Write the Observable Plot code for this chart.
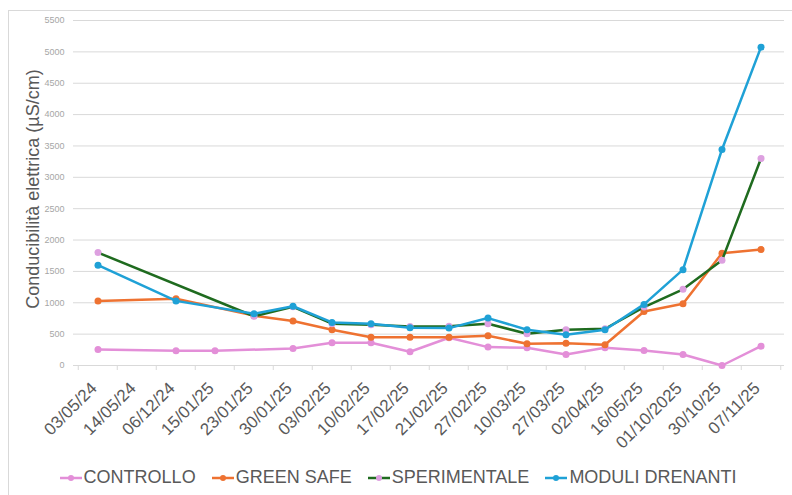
<!DOCTYPE html>
<html><head><meta charset="utf-8">
<script src="https://cdn.jsdelivr.net/npm/d3@7"></script>
<script src="https://cdn.jsdelivr.net/npm/@observablehq/plot@0.6"></script>
<style>
body{margin:0;background:#fff;font-family:"Liberation Sans",Arial,sans-serif;}
#wrap{position:relative;width:792px;height:495px;overflow:hidden;}
#frame{position:absolute;left:8px;top:10px;width:800px;height:500px;border:1px solid #d9d9d9;pointer-events:none;box-sizing:border-box;}
#chart svg{display:block;}
#legend{position:absolute;left:0;top:467px;width:792px;display:flex;justify-content:center;gap:16px;font-size:18px;color:#595959;padding-left:4px;box-sizing:border-box;}
#legend .it{display:flex;align-items:center;gap:2px;}
</style></head>
<body><div id="wrap"><div id="chart"></div><div id="legend"></div><div id="frame"></div></div>
<script>
const categories = ["03/05/24","14/05/24","06/12/24","15/01/25","23/01/25","30/01/25","03/02/25","10/02/25","17/02/25","21/02/25","27/02/25","10/03/25","27/03/25","02/04/25","16/05/25","01/10/2025","30/10/25","07/11/25"];
const seriesNames = ["CONTROLLO","GREEN SAFE","SPERIMENTALE","MODULI DRENANTI"];
const controllo    = [255, null, 234, 234, null, 271, 362, 362, 220, 442, 293, 282, 176, 282, 240, 176, 0, 308];
const greenSafe    = [1030, null, 1065, null, 795, 708, 570, 452, 452, 452, 474, 346, 356, 330, 862, 985, 1790, 1848];
const sperimentale = [1800, null, null, null, 785, 935, 666, 650, 620, 625, 666, 506, 570, 586, 931, 1214, 1677, 3300];
const moduli       = [1600, null, 1030, null, 826, 945, 687, 666, 602, 596, 756, 570, 490, 570, 974, 1528, 3444, 5075];
const yTicks = [0,500,1000,1500,2000,2500,3000,3500,4000,4500,5000,5500];
const yLabel = "Conducibilità elettrica (µS/cm)";

const lineColors = ["#E38FD8","#EE7231","#1F6B1F","#1FA1D6"];
const dotColors  = ["#E38FD8","#EE7231","#DDA0E0","#1FA1D6"];
const values = [controllo, greenSafe, sperimentale, moduli];

const rows = [];
values.forEach((arr, s) => arr.forEach((v, i) => { if (v != null) rows.push({serie: seriesNames[s], idx: s, date: categories[i], value: v}); }));

const W = 792, H = 455, ML = 73, MR = 8, MT = 20, MB = 90;
const step = (W - ML - MR) / categories.length;

const marks = [
  Plot.gridY(yTicks, {stroke: "#d9d9d9", strokeOpacity: 1}),
  Plot.axisY({ticks: yTicks, tickSize: 0, tickPadding: 9, fontSize: 9, fill: "#a6a6a6", label: null, tickFormat: d => String(d)}),
  Plot.axisX({tickSize: 5, tickFormat: () => "", dx: -step/2, stroke: "#d9d9d9", label: null}),
  Plot.axisX({ticks: [categories[categories.length-1]], tickSize: 5, tickFormat: () => "", dx: step/2, stroke: "#d9d9d9", label: null}),
  Plot.axisX({tickSize: 0, tickRotate: -45, tickPadding: 20, dx: -4, fontSize: 17, fill: "#595959", label: null}),
  Plot.text([yLabel], {frameAnchor: "left", textAnchor: "middle", rotate: -90, dx: -40, dy: -4, fontSize: 18, fill: "#595959", text: d => d})
];
seriesNames.forEach((name, s) => {
  const d = rows.filter(r => r.idx === s);
  marks.push(Plot.line(d, {x: "date", y: "value", stroke: lineColors[s], strokeWidth: 2.5}));
  marks.push(Plot.dot(d, {x: "date", y: "value", fill: dotColors[s], r: 3.5, stroke: "none"}));
});

const chart = Plot.plot({
  width: W, height: H, marginLeft: ML, marginRight: MR, marginTop: MT, marginBottom: MB,
  style: {fontFamily: "'Liberation Sans', Arial, sans-serif", background: "transparent"},
  x: {type: "band", domain: categories, padding: 0, axis: null},
  y: {domain: [0, 5500], axis: null},
  marks
});
document.getElementById("chart").appendChild(chart);

const leg = document.getElementById("legend");
seriesNames.forEach((name, s) => {
  const it = document.createElement("div");
  it.className = "it";
  it.innerHTML = `<svg width="22" height="10"><line x1="0" x2="22" y1="5" y2="5" stroke="${lineColors[s]}" stroke-width="2.5"/><circle cx="11" cy="5" r="3" fill="${dotColors[s]}"/></svg><span>${name}</span>`;
  leg.appendChild(it);
});
</script></body></html>
